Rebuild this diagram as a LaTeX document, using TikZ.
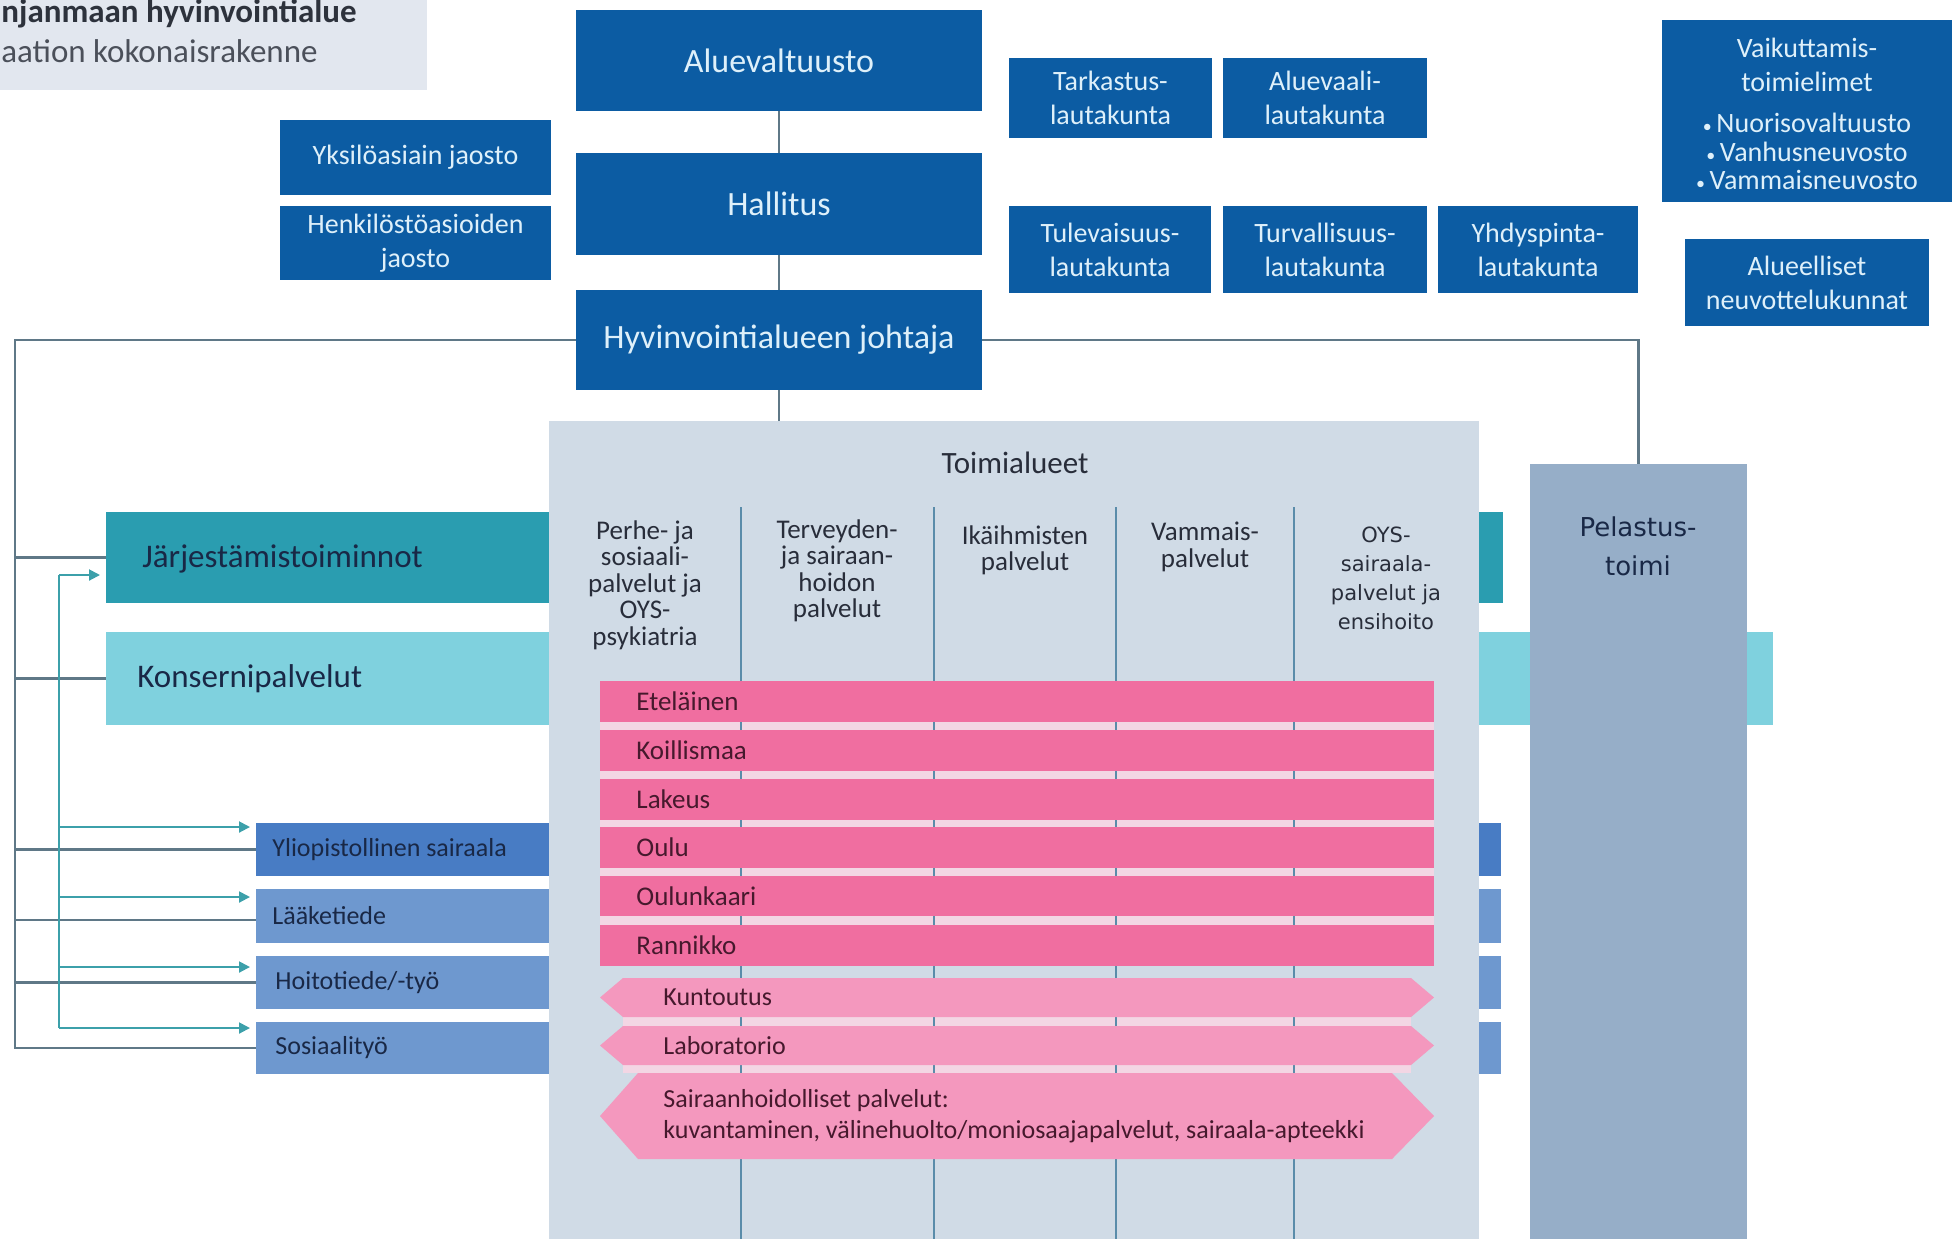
\documentclass[tikz,border=0pt]{standalone}
\usepackage{fontspec}
\setmainfont{Carlito}
\newfontfamily\vfont{DejaVu Sans}
\usetikzlibrary{arrows.meta,calc,fit}
\definecolor{dblue}{RGB}{12,92,163}
\definecolor{dtext}{RGB}{222,240,250}
\definecolor{titlebg}{RGB}{226,231,239}
\definecolor{titletx}{RGB}{45,50,60}
\definecolor{titletx2}{RGB}{75,80,90}
\definecolor{jarjcol}{RGB}{42,157,176}
\definecolor{konscol}{RGB}{127,209,222}
\definecolor{yliocol}{RGB}{72,124,196}
\definecolor{unicol}{RGB}{110,152,207}
\definecolor{panelcol}{RGB}{208,219,230}
\definecolor{pinkcol}{RGB}{240,110,160}
\definecolor{hexcol}{RGB}{244,152,190}
\definecolor{palepink}{RGB}{243,214,228}
\definecolor{pelcol}{RGB}{150,174,200}
\definecolor{divcol}{RGB}{90,140,170}
\definecolor{conncol}{RGB}{95,120,135}
\definecolor{tealcol}{RGB}{60,160,170}
\definecolor{navy}{RGB}{25,40,70}
\definecolor{pinktx}{RGB}{70,25,45}
\definecolor{hdrtx}{RGB}{40,45,58}
\begin{document}
\begin{tikzpicture}[x=0.5pt,y=-0.5pt,
  box/.style={inner sep=0pt,outer sep=0pt},
  dbox/.style={box,fill=dblue},
  dtxt/.style={inner sep=0pt,align=center,text=dtext},
  big/.style={dtxt,font=\fontsize{17}{20}\selectfont},
  mid/.style={dtxt,font=\fontsize{14}{17}\selectfont},
  conn/.style={draw=conncol,line width=1.2pt},
  tconn/.style={draw=tealcol,line width=1pt},
  tarrow/.style={tconn,-{Triangle[length=5.5pt,width=5.5pt]},shorten >=3pt},
  lbl/.style={inner sep=0pt,anchor=west,text=navy},
  ptext/.style={inner sep=0pt,anchor=west,text=pinktx,font=\fontsize{13.5}{15}\selectfont},
  hdr/.style={inner sep=0pt,anchor=north,align=center,text=hdrtx,font=\fontsize{13.5}{13.25}\selectfont}
]
\useasboundingbox (0,0) rectangle (1957,1239);
% title
\fill[titlebg] (0,0) rectangle (427,90);
\node[anchor=base west,inner sep=0pt,text=titletx,font=\bfseries\fontsize{16.5}{20}\selectfont] (t1) at (1,22) {njanmaan hyvinvointialue};
\node[anchor=base west,inner sep=0pt,text=titletx2,font=\fontsize{16.5}{20}\selectfont] (t2) at (1,62) {aation kokonaisrakenne};
% dark boxes
\node[dbox,fit={(576,10) (982,111)}] (aluev) {};
\node[dbox,fit={(576,153) (982,255)}] (hall) {};
\node[dbox,fit={(576,290) (982,390)}] (joht) {};
\node[dbox,fit={(280,120) (551,195)}] (yks) {};
\node[dbox,fit={(280,206) (551,280)}] (henk) {};
\node[dbox,fit={(1009,58) (1212,138)}] (tark) {};
\node[dbox,fit={(1223,58) (1427,138)}] (avaali) {};
\node[dbox,fit={(1009,206) (1211,293)}] (tulev) {};
\node[dbox,fit={(1223,206) (1427,293)}] (turv) {};
\node[dbox,fit={(1438,206) (1638,293)}] (yhd) {};
\node[dbox,fit={(1662,20) (1952,202)}] (vaik) {};
\node[dbox,fit={(1685,239) (1929,326)}] (aluee) {};
\node[big] (aluevT) at (aluev) {Aluevaltuusto};
\node[big] (hallT) at (hall) {Hallitus};
\node[big] (johtT) at (joht) {Hyvinvointialueen johtaja};
\node[mid] (yksT) at (yks) {Yksilöasiain jaosto};
\node[mid] (henkT) at (henk) {Henkilöstöasioiden\\jaosto};
\node[mid] (tarkT) at (tark) {Tarkastus-\\lautakunta};
\node[mid] (avaaliT) at (avaali) {Aluevaali-\\lautakunta};
\node[mid] (tulevT) at (tulev) {Tulevaisuus-\\lautakunta};
\node[mid] (turvT) at (turv) {Turvallisuus-\\lautakunta};
\node[mid] (yhdT) at (yhd) {Yhdyspinta-\\lautakunta};
\node[dtxt,font=\fontsize{14}{14.25}\selectfont] (vaikT) at ($(vaik)+(0,3)$) {Vaikuttamis-\\[2.75pt]toimielimet\\[6.25pt]{\small•}\,Nuorisovaltuusto\\{\small•}\,Vanhusneuvosto\\{\small•}\,Vammaisneuvosto};
\node[mid] (alueeT) at (aluee) {Alueelliset\\neuvottelukunnat};
% left boxes (under the panel)
\node[box,fill=jarjcol,fit={(106,512) (1503,603)}] (jarj) {};
\node[box,fill=konscol,fit={(106,632) (1773,725)}] (kons) {};
\node[box,fill=yliocol,fit={(256,823) (1501,876)}] (yliop) {};
\node[box,fill=unicol,fit={(256,889) (1501,943)}] (laake) {};
\node[box,fill=unicol,fit={(256,956) (1501,1009)}] (hoito) {};
\node[box,fill=unicol,fit={(256,1022) (1501,1074)}] (sosi) {};
\node[lbl,font=\fontsize{16.5}{19}\selectfont] (jarjT) at (142,559) {Järjestämistoiminnot};
\node[lbl,font=\fontsize{16.5}{19}\selectfont] (konsT) at (137,679) {Konsernipalvelut};
\node[lbl,font=\fontsize{13}{15}\selectfont] (yliopT) at (272,850) {Yliopistollinen sairaala};
\node[lbl,font=\fontsize{13}{15}\selectfont] (laakeT) at (272,916) {Lääketiede};
\node[lbl,font=\fontsize{13}{15}\selectfont] (hoitoT) at (275,983) {Hoitotiede/-työ};
\node[lbl,font=\fontsize{13}{15}\selectfont] (sosiT) at (275,1048) {Sosiaalityö};
% panel and Pelastus
\node[box,fill=panelcol,fit={(549,421) (1479,1239)}] (panel) {};
\node[box,fill=pelcol,fit={(1530,464) (1747,1239)}] (pel) {};
\node[inner sep=0pt,align=center,text=navy,font=\vfont\fontsize{13}{19.5}\selectfont] (pelT) at (1638,546) {Pelastus-\\toimi};
% connectors
\coordinate (lt) at (15,340);
\coordinate (lb) at (15,1048);
\draw[conn] (aluev.south) -- (hall.north);
\draw[conn] (hall.south) -- (joht.north);
\draw[conn] (joht.south) -- (joht.south |- panel.north);
\draw[conn] (joht.west) -- (lt) -- (lb) -- (sosi.west);
\draw[conn] (lt |- jarj.west) -- (jarj.west);
\draw[conn] (lt |- kons.west) -- (kons.west);
\draw[conn] (lt |- yliop.west) -- (yliop.west);
\coordinate (lk) at ($(laake.west)+(0,4)$);
\draw[conn] (lt |- lk) -- (lk);
\draw[conn] (lt |- hoito.west) -- (hoito.west);
\coordinate (pr) at (pel.north |- joht.east);
\draw[conn] (joht.east) -- (pr) -- (pel.north);
% teal arrows
\coordinate (at) at (59,575);
\coordinate (ab) at (59,1028);
\coordinate (ya) at ($(yliop.north west)+(0,4)$);
\coordinate (la) at ($(laake.north west)+(0,8)$);
\coordinate (ha) at ($(hoito.north west)+(0,11)$);
\coordinate (sa) at ($(sosi.north west)+(0,6)$);
\draw[tconn] (at) -- (ab);
\draw[tarrow] (at) -- (at -| jarj.west);
\draw[tarrow] (at |- ya) -- (ya);
\draw[tarrow] (at |- la) -- (la);
\draw[tarrow] (at |- ha) -- (ha);
\draw[tarrow] (ab) -- (sa);
% panel contents
\node[inner sep=0pt,text=hdrtx,font=\fontsize{15.5}{18}\selectfont] (toim) at (1015,463) {Toimialueet};
\fill[palepink] (600,681) rectangle (1434,966);
\fill[palepink] (623,1017) rectangle (1411,1026);
\fill[palepink] (623,1065) rectangle (1411,1073);
\foreach \x in {741,934,1116,1294} \draw[divcol,line width=0.9pt] (\x,507) -- (\x,1239);
\node[hdr] (h1) at (645,520) {Perhe- ja\\sosiaali-\\palvelut ja\\OYS-\\psykiatria};
\node[hdr] (h2) at (837,519) {Terveyden-\\ja sairaan-\\hoidon\\palvelut};
\node[hdr] (h3) at (1025,525) {Ikäihmisten\\palvelut};
\node[hdr] (h4) at (1205,522) {Vammais-\\palvelut};
\node[inner sep=0pt,align=center,text=hdrtx,font=\vfont\fontsize{10.5}{14.5}\selectfont] (h5) at (1386,578) {OYS-\\sairaala-\\palvelut ja\\ensihoito};
% regional bars
\node[box,fill=pinkcol,fit={(600,681) (1434,722)}] (etel) {};
\node[box,fill=pinkcol,fit={(600,730) (1434,771)}] (koil) {};
\node[box,fill=pinkcol,fit={(600,779) (1434,820)}] (lake) {};
\node[box,fill=pinkcol,fit={(600,827) (1434,868)}] (oulu) {};
\node[box,fill=pinkcol,fit={(600,876) (1434,916)}] (oulk) {};
\node[box,fill=pinkcol,fit={(600,925) (1434,966)}] (rann) {};
\node[ptext] (etelT) at ($(etel.west)+(36,0)$) {Eteläinen};
\node[ptext] (koilT) at ($(koil.west)+(36,0)$) {Koillismaa};
\node[ptext] (lakeT) at ($(lake.west)+(36,0)$) {Lakeus};
\node[ptext] (ouluT) at ($(oulu.west)+(36,0)$) {Oulu};
\node[ptext] (oulkT) at ($(oulk.west)+(36,0)$) {Oulunkaari};
\node[ptext] (rannT) at ($(rann.west)+(36,0)$) {Rannikko};
% hexagons
\fill[hexcol] (600,997.5) -- (623,978) -- (1411,978) -- (1434,997.5) -- (1411,1017) -- (623,1017) -- cycle;
\fill[hexcol] (600,1045.5) -- (623,1026) -- (1411,1026) -- (1434,1045.5) -- (1411,1065) -- (623,1065) -- cycle;
\fill[hexcol] (600,1116) -- (638,1073) -- (1392,1073) -- (1434,1116) -- (1392,1159) -- (638,1159) -- cycle;
\node[ptext,font=\fontsize{13}{15}\selectfont] (kuntT) at (663,997.5) {Kuntoutus};
\node[ptext,font=\fontsize{13}{15}\selectfont] (labT) at (663,1045.5) {Laboratorio};
\node[ptext,align=left,font=\fontsize{13}{15.5}\selectfont] (sairT) at (663,1116) {Sairaanhoidolliset palvelut:\\kuvantaminen, välinehuolto/moniosaajapalvelut, sairaala-apteekki};
\end{tikzpicture}
\end{document}
